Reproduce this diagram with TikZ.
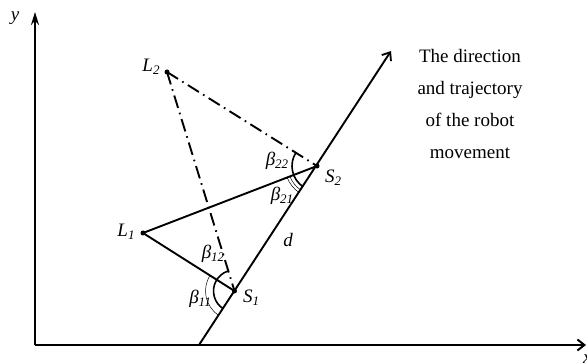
\documentclass[tikz,border=0pt]{standalone}
\usepackage{fontspec}
\setmainfont{Liberation Serif}
\usetikzlibrary{arrows.meta}
\newcommand{\sbs}[1]{\raisebox{-0.35ex}{\fontsize{13}{13}\selectfont #1}}
\tikzset{
  ln/.style={line width=1.9pt},
  dd/.style={line width=1.9pt, dash pattern=on 13pt off 5pt on 1.6pt off 5pt},
  pt/.style={circle, fill=black, inner sep=0pt, minimum size=5pt},
  lab/.style={font=\fontsize{19}{22}\selectfont\itshape, inner sep=0pt},
  thk/.style={line width=1.6pt},
  thn/.style={line width=0.5pt}
}
\begin{document}
\begin{tikzpicture}[x=1pt,y=1pt]
\useasboundingbox (0,0) rectangle (587,362);
% axes
\coordinate (O) at (35,17);
\coordinate (Ytip) at (35,350);
\coordinate (Xtip) at (586,17);
\draw[line width=2.2pt, -{Stealth[length=13pt,width=8pt]}] (O) -- (Ytip);
\draw[line width=2.2pt, -{Straight Barb[length=7pt,width=11pt,line width=2pt]}] (O) -- (Xtip);
\node[lab] (ylab) at (15,344) {y};
\node[lab, anchor=north west] (xlab) at (583,7) {x};
% trajectory
\coordinate (T0) at (199,17);
\coordinate (T1) at (391,311);
\draw[ln, -{Straight Barb[length=7pt,width=11pt,line width=1.8pt]}] (T0) -- (T1);
% points
\node[pt] (S1) at (234.5,71) {};
\node[pt] (S2) at (317,196) {};
\node[pt] (L1) at (143,129) {};
\node[pt] (L2) at (167,290) {};
% connectors
\draw[ln] (L1.center) -- (S1.center);
\draw[ln] (L1.center) -- (S2.center);
\draw[dd] (L2.center) -- (S1.center);
\draw[dd] (L2.center) -- (S2.center);
% angle arcs at S1
\draw[thk] ([shift={(107.1:21)}]S1.center) arc[start angle=107.1, end angle=236.7, radius=21];
\draw[thn] ([shift={(147.6:29)}]S1.center) arc[start angle=147.6, end angle=236.7, radius=29];
% angle arcs at S2
\draw[thk] ([shift={(147.9:25)}]S2.center) arc[start angle=147.9, end angle=236.6, radius=25];
\draw[thn] ([shift={(201.1:29)}]S2.center) arc[start angle=201.1, end angle=236.6, radius=29];
\draw[thn] ([shift={(201.1:32)}]S2.center) arc[start angle=201.1, end angle=236.6, radius=32];
% labels
\node[lab] (lL2) at (151,295) {L\sbs{2}};
\node[lab] (lL1) at (126,130) {L\sbs{1}};
\node[lab] (lS1) at (251,64) {S\sbs{1}};
\node[lab] (lS2) at (333,184) {S\sbs{2}};
\node[lab] (ld) at (288,122) {d};
\node[lab] (b22) at (277,201) {β\sbs{22}};
\node[lab] (b21) at (282,166) {β\sbs{21}};
\node[lab] (b12) at (213,108) {β\sbs{12}};
\node[lab] (b11) at (200,63) {β\sbs{11}};
% text
\node[align=center, font=\fontsize{19}{32}\selectfont, inner sep=0pt] (txt) at (470,258)
  {The direction\\and trajectory\\of the robot\\movement};
\end{tikzpicture}
\end{document}
